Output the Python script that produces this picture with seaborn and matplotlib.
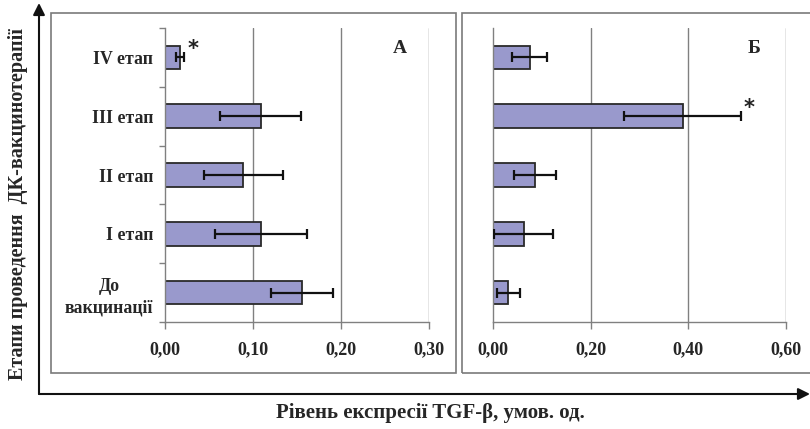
import matplotlib
matplotlib.use("Agg")
import matplotlib.pyplot as plt
import seaborn as sns
import pandas as pd
import numpy as np
from matplotlib.patches import Rectangle
from matplotlib.ticker import FixedLocator

sns.set_theme(style="white")
plt.rcParams['font.family'] = ['Liberation Serif', 'DejaVu Serif']
plt.rcParams['font.weight'] = 'bold'

categories = ["IV етап", "III етап", "II етап", "I етап", "До\nвакцинації"]
values_a = [0.017, 0.109, 0.089, 0.109, 0.156]
errors_a = [0.005, 0.046, 0.045, 0.052, 0.035]
values_b = [0.075, 0.388, 0.086, 0.062, 0.031]
errors_b = [0.036, 0.120, 0.043, 0.061, 0.023]
ticks_a = [0.0, 0.1, 0.2, 0.3]
ticks_b = [0.0, 0.2, 0.4, 0.6]
tick_labels_a = ["0,00", "0,10", "0,20", "0,30"]
tick_labels_b = ["0,00", "0,20", "0,40", "0,60"]
star_a = 0   # index of category with significance mark in A
star_b = 1   # in B

W, H = 810, 429
fig = plt.figure(figsize=(W / 100, H / 100), dpi=100)

def px_axes(l, t, r, b):
    return fig.add_axes([l / W, 1 - b / H, (r - l) / W, (b - t) / H])

bar_color = "#9999CC"
edge = "#2a2a2a"
grid_c = "#808080"

def draw_panel(ax, vals, errs, ticks, tlabels, letter, star_idx, show_ylabels):
    df = pd.DataFrame({"stage": categories, "value": vals})
    sns.barplot(data=df, y="stage", x="value", orient="h", ax=ax,
                color=bar_color, saturation=1, width=0.4,
                edgecolor=edge, linewidth=1.3, errorbar=None)
    ax.errorbar(vals, np.arange(len(categories)), xerr=errs, fmt="none",
                ecolor="#111111", elinewidth=1.6, capsize=3.5, capthick=1.6,
                zorder=5)
    ax.set_xlim(ticks[0], ticks[-1])
    ax.set_ylim(len(categories) - 0.5, -0.5)
    ax.set_xticks(ticks)
    ax.set_xticklabels(tlabels, fontsize=13, fontweight="bold")
    ax.set_xlabel("")
    ax.set_ylabel("")
    for t in ticks[1:]:
        ax.axvline(t, color=grid_c, lw=1, zorder=0)
    for s in ["top", "right"]:
        ax.spines[s].set_visible(False)
    for s in ["left", "bottom"]:
        ax.spines[s].set_color(grid_c)
        ax.spines[s].set_linewidth(1)
    ax.tick_params(axis="x", direction="out", length=5, color=grid_c,
                   width=1, pad=9, bottom=True)
    ax.tick_params(axis="y", which="major", length=0, pad=8.5)
    if show_ylabels:
        ax.set_yticks(np.arange(len(categories)))
        ax.set_yticklabels(categories, fontsize=12.8, fontweight="bold",
                           linespacing=1.35, multialignment="center")
        ax.yaxis.set_minor_locator(FixedLocator(np.arange(len(categories) + 1) - 0.5))
        ax.tick_params(axis="y", which="minor", direction="out", length=4,
                       color=grid_c, width=1, left=True)
    else:
        ax.set_yticklabels([])
    ax.set_facecolor("none")
    ax.text(0.89, 0.93, letter, transform=ax.transAxes, fontsize=14,
            fontweight="bold", ha="center", va="center")
    ax.annotate("*", (vals[star_idx] + errs[star_idx], star_idx),
                xytext=(2, 6), textcoords="offset points",
                fontsize=15, ha="left", va="center", color="#222222",
                fontfamily="DejaVu Sans")

# panel frames
fig.patches.append(Rectangle((51 / W, 1 - 373 / H), (456 - 51) / W, (373 - 13) / H,
                             transform=fig.transFigure, fill=False,
                             edgecolor="#7a7a7a", lw=1.2, zorder=0))
fig.patches.append(Rectangle((462 / W, 1 - 373 / H), (812 - 462) / W, (373 - 13) / H,
                             transform=fig.transFigure, fill=False,
                             edgecolor="#7a7a7a", lw=1.2, zorder=0))

axA = px_axes(165, 28, 429, 322)
draw_panel(axA, values_a, errors_a, ticks_a, tick_labels_a, "А", star_a, True)
axB = px_axes(493.3, 28, 786, 322)
draw_panel(axB, values_b, errors_b, ticks_b, tick_labels_b, "Б", star_b, False)

# outer arrows
fig.add_artist(matplotlib.patches.FancyArrowPatch(
    (39 / W, 1 - 394 / H), (39 / W, 1 - 3 / H), transform=fig.transFigure,
    arrowstyle="-|>,head_length=7,head_width=3.5", color="#111111", lw=1.5,
    shrinkA=0, shrinkB=0))
fig.add_artist(matplotlib.patches.FancyArrowPatch(
    (39 / W, 1 - 394 / H), (810 / W, 1 - 394 / H), transform=fig.transFigure,
    arrowstyle="-|>,head_length=7,head_width=3.5", color="#111111", lw=1.5,
    shrinkA=0, shrinkB=0))

fig.text(18 / W, 1 - 204 / H, "Етапи проведення  ДК-вакцинотерапії",
         rotation=90, ha="center", va="center", fontsize=14.5, fontweight="bold")
fig.text(430 / W, 1 - 413 / H, "Рівень експресії TGF-β, умов. од.",
         ha="center", va="center", fontsize=15, fontweight="bold")

fig.savefig("out.png", dpi=100)
